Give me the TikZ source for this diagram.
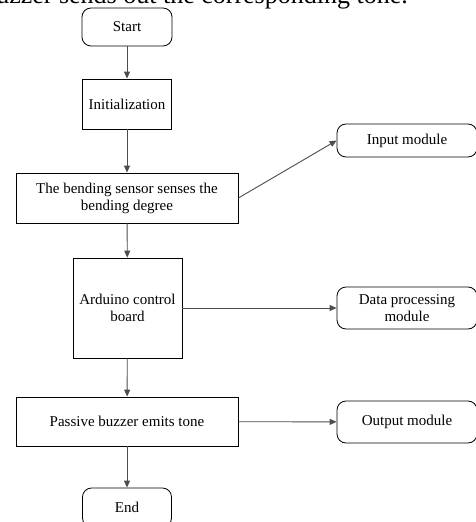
\documentclass[tikz,border=0pt]{standalone}
\usepackage{fontspec}
\setmainfont{Liberation Serif}
\usetikzlibrary{arrows.meta}
\begin{document}
\begin{tikzpicture}[x=1bp,y=-1bp,
  every node/.style={font=\fontsize{15bp}{17bp}\selectfont, inner sep=0pt},
  procbox/.style={draw=black, line width=0.8bp, rectangle, align=center},
  termbox/.style={draw=black, line width=0.8bp, rectangle, rounded corners=9bp, align=center},
  conn/.style={draw=black!70, line width=0.9bp, -{Triangle[length=7bp,width=6bp]}}]
\useasboundingbox (0,0) rectangle (476,522);
\clip (0,0) rectangle (476,522);
\node[anchor=base east, font=\fontsize{26bp}{30bp}\selectfont] (cap) at (408,4) {buzzer sends out the corresponding tone.};
\node[termbox, minimum width=90bp, minimum height=38bp] (start) at (127,27) {Start};
\node[procbox, minimum width=89bp, minimum height=50bp] (init) at (127,104) {Initialization};
\node[procbox, minimum width=222bp, minimum height=50bp] (sense) at (127,198) {The bending sensor senses the\\bending degree};
\node[termbox, minimum width=140bp, minimum height=33bp] (input) at (407,140.5) {Input module};
\node[procbox, minimum width=109bp, minimum height=100bp] (ard) at (127.5,308) {Arduino control\\board};
\node[termbox, minimum width=140bp, minimum height=42bp] (data) at (407,308) {Data processing\\module};
\node[procbox, minimum width=222bp, minimum height=49bp] (buzz) at (127,421.5) {Passive buzzer emits tone};
\node[termbox, minimum width=140bp, minimum height=42bp] (output) at (407,422) {Output module};
\node[termbox, minimum width=89bp, minimum height=39bp] (end) at (127,507.5) {End};
\draw[conn] (start) -- (init);
\draw[conn] (init) -- (sense);
\draw[conn] (sense.east) -- (input.west);
\draw[conn] (sense) -- (ard);
\draw[conn] (ard) -- (data);
\draw[conn] (ard) -- (buzz);
\draw[conn] (buzz) -- (output);
\draw[conn] (buzz) -- (end);
\end{tikzpicture}
\end{document}
